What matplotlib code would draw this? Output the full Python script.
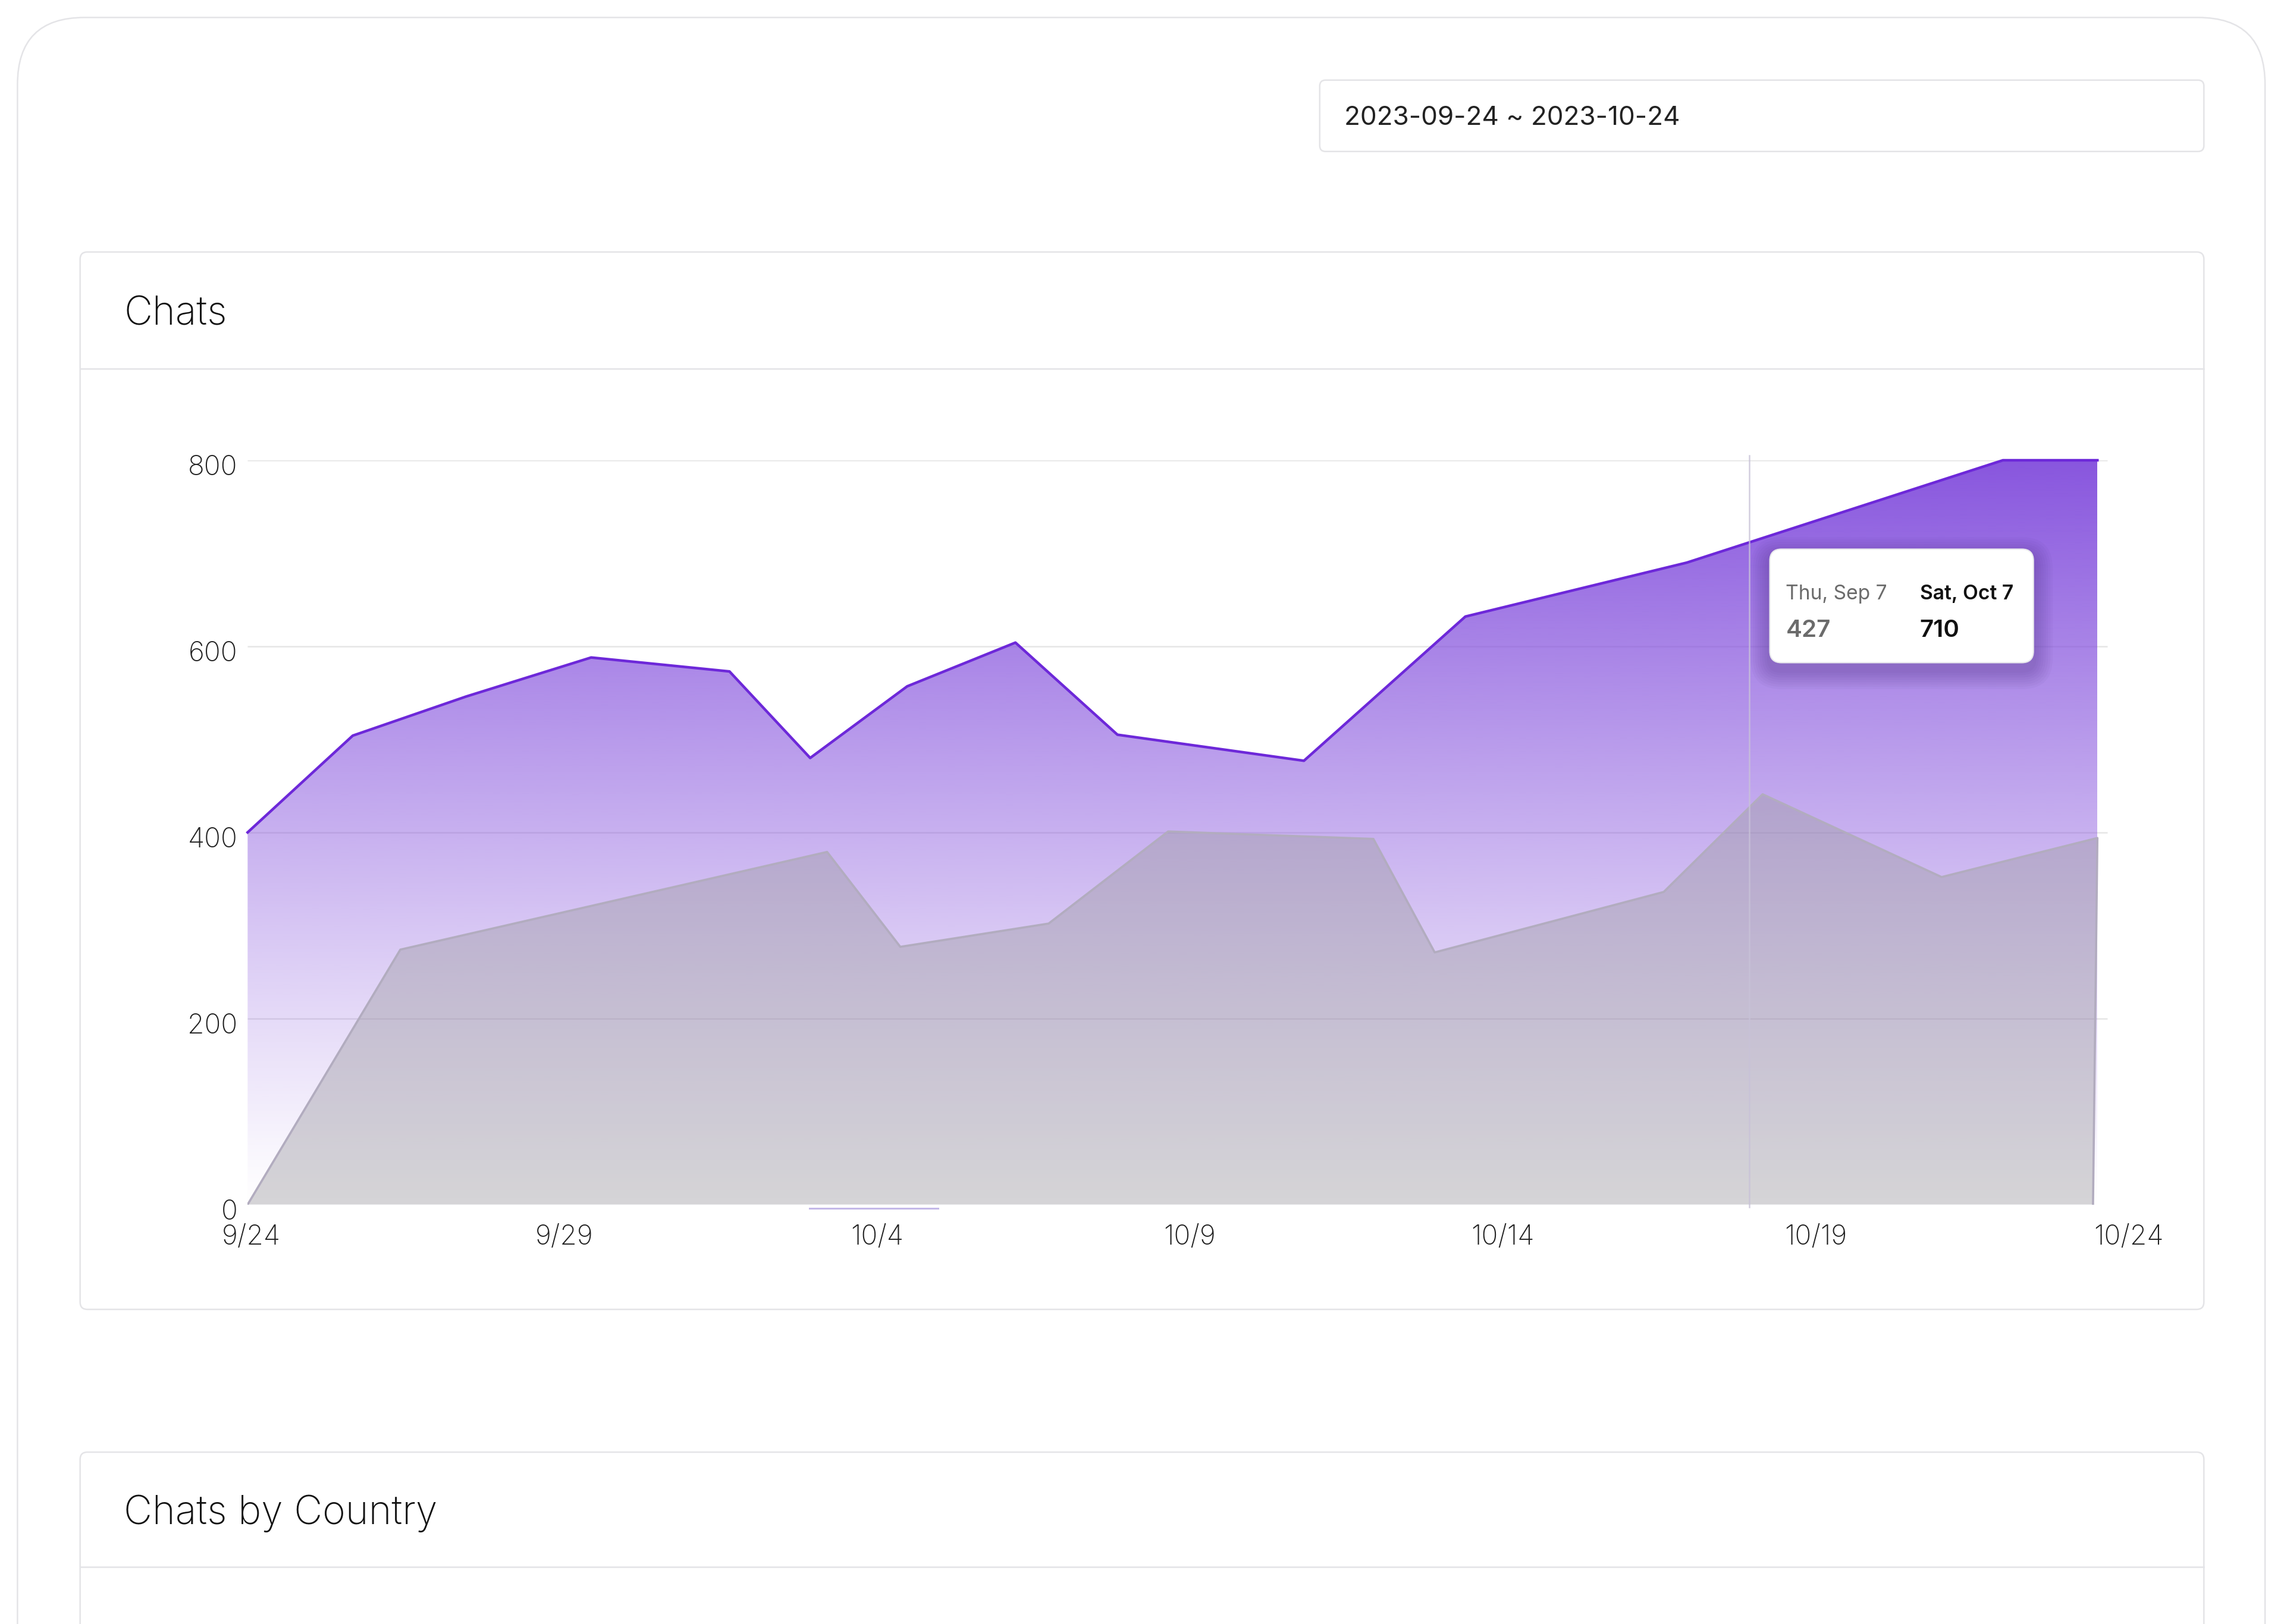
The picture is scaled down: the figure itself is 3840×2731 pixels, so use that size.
import numpy as np
import matplotlib.pyplot as plt
from matplotlib.patches import FancyBboxPatch
from matplotlib.colors import to_rgb
from matplotlib.transforms import ScaledTranslation

plt.rcParams['font.family'] = ['Inter', 'DejaVu Sans']

# --- data (x = days after 2023-09-24) ---
chat_days = [0, 1.68, 3.49, 5.49, 7.70, 8.99, 10.54, 12.27, 13.90, 16.88, 19.46, 23.00, 28.05, 29.56]
chat_counts = [400, 504, 546, 588, 573, 480, 557, 604, 505, 477, 632, 690, 800, 800]
prev_days = [0, 2.44, 9.26, 10.43, 12.80, 14.71, 17.99, 18.97, 22.63, 24.21, 27.07, 29.56, 29.49]
prev_counts = [0, 274, 379, 277, 302, 401, 393, 271, 336, 441, 352, 394, 0]
tick_days = [0, 5, 10, 15, 20, 25, 30]
tick_labels = ['9/24', '9/29', '10/4', '10/9', '10/14', '10/19', '10/24']
y_ticks = [0, 200, 400, 600, 800]
date_range = '2023-09-24 ~ 2023-10-24'
tooltip_dates = ['Thu, Sep 7', 'Sat, Oct 7']
tooltip_values = [427, 710]
cursor_day = 24
brush_days = [8.98, 11.03]

# page layout works in screen units of 1568 x 1115
W, H = 1568, 1115
S = 3840 / W * 0.72   # screen px -> points at dpi 100

fig = plt.figure(figsize=(38.4, 27.31), dpi=100)
fig.patch.set_facecolor('white')

bg = fig.add_axes([0, 0, 1, 1], zorder=0)
bg.set_xlim(0, W)
bg.set_ylim(H, 0)
bg.axis('off')

border = '#e4e4e7'


def card(x0, y0, x1, y1, r, lw=1.8):
    bg.add_patch(FancyBboxPatch((x0 + r, y0 + r), x1 - x0 - 2 * r, y1 - y0 - 2 * r,
                                boxstyle=f'round,pad={r}', facecolor='white',
                                edgecolor=border, linewidth=lw))


# outer panel
card(12, 12, 1555, 1300, 46)
# date picker
card(906, 55, 1513, 104, 4)
bg.text(923, 81, date_range, fontsize=18 * S, color='#222222', va='center', ha='left')
# chats card
card(55, 173, 1513, 899, 5)
bg.plot([55, 1513], [253, 253], color=border, lw=1.8)
bg.text(85, 216, 'Chats', fontsize=27 * S, color='#111111', va='center', ha='left', fontweight='light')
# chats by country card
card(55, 997, 1513, 1300, 5)
bg.plot([55, 1513], [1076, 1076], color=border, lw=1.8)
bg.text(85, 1039, 'Chats by Country', fontsize=27 * S, color='#111111', va='center', ha='left',
        fontweight='light')

# --- chart axes ---
px_per_day = 42.96
x_left, x_right = 170, 170 + 30.1 * px_per_day
y_top, y_bot = 316, 827
ax = fig.add_axes([x_left / W, 1 - y_bot / H, (x_right - x_left) / W, (y_bot - y_top) / H], zorder=1)
ax.patch.set_alpha(0)

ax.hlines(y_ticks[1:], 0, 29.72, color='#e6e6e6', lw=1.8, zorder=1)

# purple area with vertical gradient
poly_x = chat_days + [chat_days[-1], chat_days[0]]
poly_y = chat_counts + [0, 0]
clip = ax.fill(poly_x, poly_y, facecolor='none', edgecolor='none')[0]
grad = np.zeros((256, 1, 4))
grad[..., :3] = to_rgb('#8450dd')
grad[:, 0, 3] = np.linspace(0, 0.97, 256) ** 1.1
im = ax.imshow(grad, extent=[0, chat_days[-1], 0, 800], origin='lower', aspect='auto',
               zorder=2, interpolation='bilinear')
im.set_clip_path(clip)

# previous period area
ax.fill(prev_days, prev_counts, facecolor='#9e9ca3', alpha=0.43, edgecolor='none', zorder=3)
ax.plot(prev_days, prev_counts, color='#b2acbf', lw=2.6, zorder=4, solid_joinstyle='round')

ax.plot(chat_days, chat_counts, color='#6d28d9', lw=3.2, zorder=5, clip_on=False,
        solid_joinstyle='round')

# hover cursor and brush
ax.plot([cursor_day, cursor_day], [-3, 805], color='#c8c2d8', lw=1.8, alpha=0.8, zorder=6, clip_on=False)
ax.plot(brush_days, [-4, -4], color='#c4b8e8', lw=2.2, zorder=6, clip_on=False)

ax.set_xlim(0, 30.1)
ax.set_ylim(0, 800)
ax.set_xticks(tick_days)
ax.set_xticklabels(tick_labels)
ax.set_yticks(y_ticks)
ax.tick_params(length=0, labelsize=18.8 * S, colors='#222222')
ax.tick_params(axis='x', pad=24)
ax.tick_params(axis='y', pad=12)
for lab in ax.get_xticklabels():
    lab.set_fontweight('light')
    lab.set_transform(lab.get_transform() + ScaledTranslation(0.06, 0, fig.dpi_scale_trans))
for lab in ax.get_yticklabels():
    lab.set_fontweight('light')
    lab.set_transform(lab.get_transform() + ScaledTranslation(0, -0.08, fig.dpi_scale_trans))
for sp in ax.spines.values():
    sp.set_visible(False)

# --- tooltip ---
tip = fig.add_axes([0, 0, 1, 1], zorder=3)
tip.set_xlim(0, W)
tip.set_ylim(H, 0)
tip.axis('off')
tip.patch.set_alpha(0)
for k in range(8):
    g = 2 + k * 1.6
    tip.add_patch(FancyBboxPatch((1215 + 8, 377 + 8 + 5), 181 - 16, 78 - 16,
                                 boxstyle=f'round,pad={8 + g}', facecolor='#3b1f70',
                                 edgecolor='none', alpha=0.035))
tip.add_patch(FancyBboxPatch((1215 + 8, 377 + 8), 181 - 16, 78 - 16, boxstyle='round,pad=8',
                             facecolor='white', edgecolor='#e8e8ec', linewidth=1.5))
tip.text(1226, 408, tooltip_dates[0], fontsize=13.7 * S, color='#6b6b6b', va='center', ha='left')
tip.text(1318, 408, tooltip_dates[1], fontsize=13.7 * S, color='#111111', va='center', ha='left',
         fontweight='semibold')
tip.text(1226, 433, str(tooltip_values[0]), fontsize=16.5 * S, color='#6b6b6b', va='center', ha='left',
         fontweight='semibold')
tip.text(1318, 433, str(tooltip_values[1]), fontsize=16.5 * S, color='#111111', va='center', ha='left',
         fontweight='semibold')

fig.savefig('out.png', dpi=100, facecolor='white')
